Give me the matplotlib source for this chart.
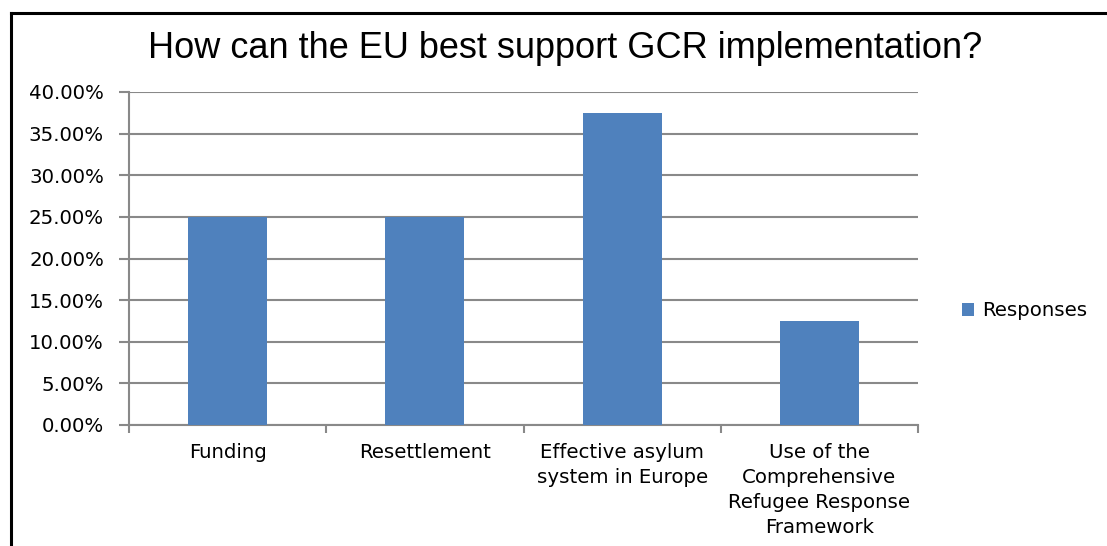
import matplotlib
matplotlib.use("Agg")
import matplotlib.pyplot as plt
from matplotlib.lines import Line2D
from matplotlib.ticker import FuncFormatter, MultipleLocator, FixedLocator

categories = ["Funding", "Resettlement", "Effective asylum\nsystem in Europe",
              "Use of the\nComprehensive\nRefugee Response\nFramework"]
values = [25.0, 25.0, 37.5, 12.5]
series_name = "Responses"
title = "How can the EU best support GCR implementation?"

W, H = 1107, 546
fig = plt.figure(figsize=(W / 100, H / 100), dpi=100)
ax = fig.add_axes([129 / W, 1 - 425 / H, (918 - 129) / W, (425 - 92) / H])

grid_c = "#898989"
bar_c = "#4F81BD"
lab_font = "DejaVu Sans"
lab_size = 14.2

x = list(range(len(categories)))
ax.bar(x, values, width=0.4, color=bar_c, label=series_name, zorder=3)
ax.set_xlim(-0.5, len(categories) - 0.5)
ax.set_ylim(0, 40)
ax.yaxis.set_major_locator(MultipleLocator(5))
ax.yaxis.set_major_formatter(FuncFormatter(lambda v, p: f"{v:.2f}%"))
ax.grid(axis="y", color=grid_c, linewidth=1.5, zorder=0)
ax.set_axisbelow(True)

ax.set_xticks(x)
ax.set_xticklabels(categories, fontfamily=lab_font, fontsize=lab_size, linespacing=1.4)
ax.xaxis.set_minor_locator(FixedLocator([i - 0.5 for i in range(len(categories) + 1)]))
ax.tick_params(axis="x", which="major", length=0, pad=13)
ax.tick_params(axis="x", which="minor", length=6, width=1.5, color=grid_c, direction="out")
ax.tick_params(axis="y", length=7, width=1.5, color=grid_c, pad=11)
for t in ax.get_yticklabels():
    t.set_fontfamily(lab_font)
    t.set_fontsize(lab_size)

for s in ["top", "right"]:
    ax.spines[s].set_visible(False)
for s in ["left", "bottom"]:
    ax.spines[s].set_color(grid_c)
    ax.spines[s].set_linewidth(1.5)

fig.text(565 / W, 1 - 49 / H, title, ha="center", va="center",
         fontfamily="Liberation Sans", fontsize=26)

leg = fig.legend(loc="center left", bbox_to_anchor=(944 / W, 1 - 311 / H), frameon=False,
                 prop={"family": lab_font, "size": lab_size}, handlelength=0.6,
                 handleheight=0.6, handletextpad=0.45)

fig.add_artist(Line2D([11 / W, 11 / W], [0, 1 - 13 / H], color="black", linewidth=2.2,
                      transform=fig.transFigure))
fig.add_artist(Line2D([11 / W, 1], [1 - 13 / H, 1 - 13 / H], color="black", linewidth=2.2,
                      transform=fig.transFigure))

fig.savefig("out.png", dpi=100, facecolor="white")
